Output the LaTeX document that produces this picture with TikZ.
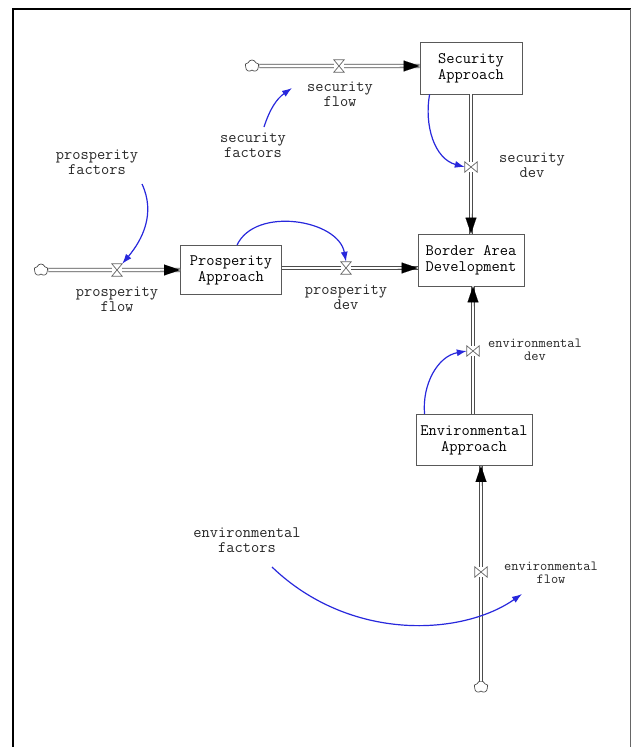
\documentclass[tikz,border=0pt]{standalone}
\usetikzlibrary{arrows.meta,shapes.symbols,calc}
\begin{document}
\begin{tikzpicture}[x=1pt,y=1pt,
  lab/.style={font=\ttfamily\fontsize{16}{15}\selectfont, align=center, text=black!85, inner sep=0},
  slab/.style={font=\ttfamily\fontsize{14}{13}\selectfont, align=center, text=black!85, inner sep=0},
  stock/.style={draw=black!65, line width=0.9pt, fill=white, font=\ttfamily\fontsize{16}{16}\selectfont, align=center, inner sep=0},
  pipe/.style={draw=black!70, line width=0.8pt, double=white, double distance=2.6pt},
  bigtip/.style={line width=0.01pt, -{Triangle[length=16pt,width=11pt]}},
  valvebox/.style={minimum width=10pt, minimum height=12pt, inner sep=0},
  valvebar/.style={minimum width=12pt, minimum height=10pt, inner sep=0},
  valve/.style={draw=black!60, line width=0.7pt, fill=white},
  cloudnode/.style={cloud, cloud puffs=5, cloud puff arc=140, draw=black!70, line width=0.7pt, fill=white, minimum width=14pt, minimum height=12pt, inner sep=0},
  link/.style={draw={rgb,255:red,40;green,40;blue,220}, line width=1.2pt, -{Latex[length=10pt,width=7pt]}}
]
\useasboundingbox (0,0) rectangle (632,-747);
% frame
\draw[line width=2pt, black] (12.5,-747) -- (12.5,-8.5) -- (631,-8.5);
\draw[line width=0.8pt, black!60] (630,-9) -- (630,-747);

% stocks
\node[stock, minimum width=102pt, minimum height=52pt] (SA) at (471,-68) {Security\\Approach};
\node[stock, minimum width=106pt, minimum height=52pt] (BAD) at (471,-260) {Border Area\\Development};
\node[stock, minimum width=101pt, minimum height=49pt] (PA) at (231,-270) {Prosperity\\Approach};
\node[stock, minimum width=116pt, minimum height=51pt] (EA) at (474,-440) {Environmental\\Approach};

% clouds
\node[cloudnode] (c1) at (252,-66) {};
\node[cloudnode] (c2) at (41,-270) {};
\node[cloudnode] (c4) at (481,-687) {};

% valve nodes
\node[valvebox] (v1) at (339,-66) {};
\node[valvebar] (v2) at (471,-167) {};
\node[valvebox] (v3) at (117,-270) {};
\node[valvebox] (v4) at (346,-268) {};
\node[valvebar] (v5) at (473,-351) {};
\node[valvebar] (v6) at (481,-572) {};

% pipes
\draw[pipe] (c1.east) -- (v1) -- (SA.west |- v1);
\draw[pipe] (SA.south) -- (v2) -- (BAD.north);
\draw[pipe] (c2.east) -- (v3) -- (PA.west |- v3);
\draw[pipe] (PA.east |- v4) -- (v4) -- (BAD.west |- v4);
\draw[pipe] (EA.north -| v5) -- (v5) -- (BAD.south -| v5);
\draw[pipe] (c4.north) -- (v6) -- (EA.south -| v6);

% big arrowheads
\draw[bigtip] ($(SA.west |- v1)+(-20,0)$) -- (SA.west |- v1);
\draw[bigtip] ($(BAD.north)+(0,20)$) -- (BAD.north);
\draw[bigtip] ($(PA.west |- v3)+(-20,0)$) -- (PA.west |- v3);
\draw[bigtip] ($(BAD.west |- v4)+(-20,0)$) -- (BAD.west |- v4);
\draw[bigtip] ($(BAD.south -| v5)+(0,-20)$) -- (BAD.south -| v5);
\draw[bigtip] ($(EA.south -| v6)+(0,-20)$) -- (EA.south -| v6);

% valves (hourglass on horizontal pipes, bowtie on vertical pipes)
\foreach \v in {v1,v3,v4}
  \draw[valve] (\v.north west) -- (\v.north east) -- (\v.south west) -- (\v.south east) -- cycle;
\foreach \v in {v2,v5,v6}
  \draw[valve] (\v.north west) -- (\v.south west) -- (\v.north east) -- (\v.south east) -- cycle;

% labels
\node[lab] (lsf) at (340,-94) {security\\flow};
\node[lab] (lsfac) at (253,-145) {security\\factors};
\node[lab] (lsd) at (532,-165) {security\\dev};
\node[lab] (lpfac) at (97,-162) {prosperity\\factors};
\node[lab] (lpf) at (117,-299) {prosperity\\flow};
\node[lab] (lpd) at (346,-297) {prosperity\\dev};
\node[slab] (led) at (535,-350) {environmental\\dev};
\node[lab] (lefac) at (247,-540) {environmental\\factors};
\node[slab] (lef) at (551,-573) {environmental\\flow};

% free ends of the information links
\coordinate (sfs) at (264,-127);
\coordinate (sfe) at (292,-88);
\coordinate (pfs) at (142,-184);
\coordinate (efs) at (272,-567);
\coordinate (efe) at (522,-594);

% information links
\draw[link] (sfs) to[out=72,in=215] (sfe);
\draw[link] ($(SA.south west)+(10,0)$) to[out=-100,in=165] (v2.west);
\draw[link] (pfs) to[out=-65,in=50] (v3.north east);
\draw[link] ($(PA.north west)+(57,0)$) to[out=65,in=100] (v4.north);
\draw[link] ($(EA.north west)+(9,0)$) to[out=95,in=190] (v5.west);
\draw[link] (efs) .. controls (350,-642) and (462,-636) .. (efe);
\end{tikzpicture}
\end{document}
